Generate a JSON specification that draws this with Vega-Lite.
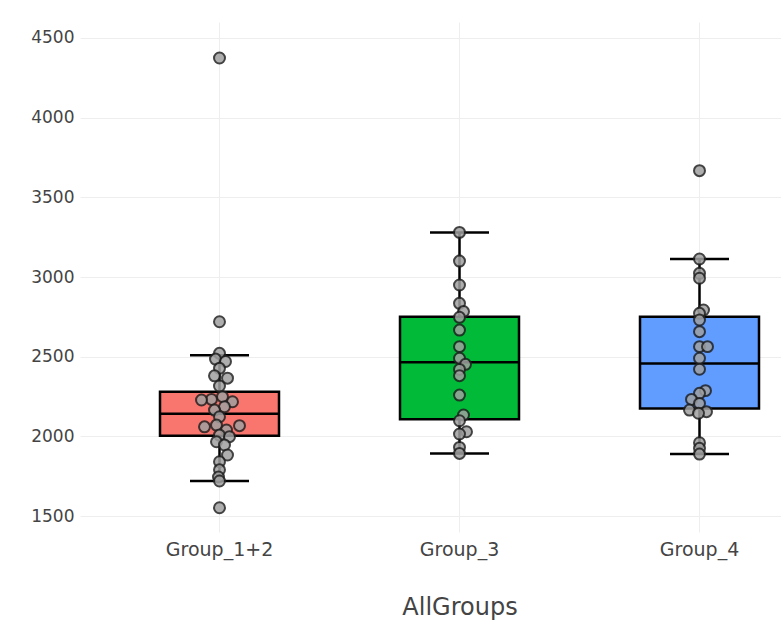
{
  "$schema": "https://vega.github.io/schema/vega-lite/v6.json",
  "width": 759,
  "height": 510,
  "autosize": {"type": "none"},
  "padding": {"left": 80, "top": 22, "right": 0, "bottom": 95},
  "background": "white",
  "config": {
    "view": {"stroke": null},
    "font": "DejaVu Sans",
    "axis": {"labelFont": "DejaVu Sans", "titleFont": "DejaVu Sans", "labelColor": "#444444", "titleColor": "#444444", "gridColor": "#eeeeee", "gridWidth": 1, "domain": false, "ticks": false, "tickSize": 0}
  },
  "datasets": {
    "boxes": [
      {"group": "Group_1+2", "lower": 1720, "q1": 2004, "median": 2142, "q3": 2280, "upper": 2509},
      {"group": "Group_3", "lower": 1893, "q1": 2107, "median": 2465, "q3": 2751, "upper": 3280},
      {"group": "Group_4", "lower": 1889, "q1": 2175, "median": 2458, "q3": 2751, "upper": 3113}
    ],
    "points": [
      {"group": "Group_1+2", "value": 4374, "jitter": 0},
      {"group": "Group_1+2", "value": 2719, "jitter": 0},
      {"group": "Group_1+2", "value": 2521, "jitter": 0},
      {"group": "Group_1+2", "value": 2485, "jitter": -0.16},
      {"group": "Group_1+2", "value": 2470, "jitter": 0.24},
      {"group": "Group_1+2", "value": 2427, "jitter": 0},
      {"group": "Group_1+2", "value": 2380, "jitter": -0.2},
      {"group": "Group_1+2", "value": 2365, "jitter": 0.32},
      {"group": "Group_1+2", "value": 2316, "jitter": 0},
      {"group": "Group_1+2", "value": 2249, "jitter": 0.12},
      {"group": "Group_1+2", "value": 2232, "jitter": -0.32},
      {"group": "Group_1+2", "value": 2228, "jitter": -0.72},
      {"group": "Group_1+2", "value": 2217, "jitter": 0.52},
      {"group": "Group_1+2", "value": 2186, "jitter": 0.2},
      {"group": "Group_1+2", "value": 2165, "jitter": -0.2},
      {"group": "Group_1+2", "value": 2123, "jitter": 0},
      {"group": "Group_1+2", "value": 2071, "jitter": -0.12},
      {"group": "Group_1+2", "value": 2067, "jitter": 0.8},
      {"group": "Group_1+2", "value": 2060, "jitter": -0.6},
      {"group": "Group_1+2", "value": 2040, "jitter": 0.28},
      {"group": "Group_1+2", "value": 2008, "jitter": 0},
      {"group": "Group_1+2", "value": 1998, "jitter": 0.4},
      {"group": "Group_1+2", "value": 1966, "jitter": -0.12},
      {"group": "Group_1+2", "value": 1946, "jitter": 0.2},
      {"group": "Group_1+2", "value": 1883, "jitter": 0.32},
      {"group": "Group_1+2", "value": 1841, "jitter": 0},
      {"group": "Group_1+2", "value": 1790, "jitter": 0},
      {"group": "Group_1+2", "value": 1745, "jitter": -0.04},
      {"group": "Group_1+2", "value": 1720, "jitter": 0},
      {"group": "Group_1+2", "value": 1552, "jitter": 0},
      {"group": "Group_3", "value": 3280, "jitter": 0},
      {"group": "Group_3", "value": 3100, "jitter": 0},
      {"group": "Group_3", "value": 2950, "jitter": 0},
      {"group": "Group_3", "value": 2835, "jitter": 0},
      {"group": "Group_3", "value": 2783, "jitter": 0.16},
      {"group": "Group_3", "value": 2747, "jitter": 0},
      {"group": "Group_3", "value": 2667, "jitter": 0},
      {"group": "Group_3", "value": 2563, "jitter": 0},
      {"group": "Group_3", "value": 2490, "jitter": 0},
      {"group": "Group_3", "value": 2452, "jitter": 0.24},
      {"group": "Group_3", "value": 2420, "jitter": 0},
      {"group": "Group_3", "value": 2381, "jitter": 0},
      {"group": "Group_3", "value": 2259, "jitter": 0},
      {"group": "Group_3", "value": 2134, "jitter": 0.16},
      {"group": "Group_3", "value": 2098, "jitter": 0},
      {"group": "Group_3", "value": 2029, "jitter": 0.28},
      {"group": "Group_3", "value": 2015, "jitter": 0},
      {"group": "Group_3", "value": 1931, "jitter": 0},
      {"group": "Group_3", "value": 1893, "jitter": 0},
      {"group": "Group_4", "value": 3667, "jitter": 0},
      {"group": "Group_4", "value": 3113, "jitter": 0},
      {"group": "Group_4", "value": 3023, "jitter": 0},
      {"group": "Group_4", "value": 2992, "jitter": 0},
      {"group": "Group_4", "value": 2793, "jitter": 0.16},
      {"group": "Group_4", "value": 2772, "jitter": 0},
      {"group": "Group_4", "value": 2730, "jitter": 0},
      {"group": "Group_4", "value": 2657, "jitter": 0},
      {"group": "Group_4", "value": 2563, "jitter": 0},
      {"group": "Group_4", "value": 2563, "jitter": 0.32},
      {"group": "Group_4", "value": 2490, "jitter": 0},
      {"group": "Group_4", "value": 2421, "jitter": 0},
      {"group": "Group_4", "value": 2287, "jitter": 0.24},
      {"group": "Group_4", "value": 2270, "jitter": 0},
      {"group": "Group_4", "value": 2232, "jitter": -0.32},
      {"group": "Group_4", "value": 2207, "jitter": 0},
      {"group": "Group_4", "value": 2165, "jitter": -0.4},
      {"group": "Group_4", "value": 2155, "jitter": 0.28},
      {"group": "Group_4", "value": 2145, "jitter": -0.04},
      {"group": "Group_4", "value": 1960, "jitter": 0},
      {"group": "Group_4", "value": 1925, "jitter": 0},
      {"group": "Group_4", "value": 1889, "jitter": 0}
    ]
  },
  "encoding": {
    "x": {
      "field": "group", "type": "nominal", "sort": ["Group_1+2", "Group_3", "Group_4"],
      "title": "AllGroups",
      "scale": {"paddingInner": 0, "paddingOuter": 0.08125},
      "axis": {"labelAngle": 0, "labelFontSize": 19, "titleFontSize": 24, "titleFontWeight": "normal", "labelPadding": 8, "titlePadding": 36, "grid": true, "bandPosition": 0.5}
    }
  },
  "layer": [
    {
      "data": {"name": "boxes"},
      "mark": {"type": "rule", "color": "black", "strokeWidth": 2.5},
      "encoding": {
        "y": {"field": "lower", "type": "quantitative", "scale": {"domain": [1400, 4600], "nice": false, "zero": false}, "title": null,
              "axis": {"values": [1500, 2000, 2500, 3000, 3500, 4000, 4500], "format": "d", "labelFontSize": 17, "labelPadding": 6, "grid": true}},
        "y2": {"field": "upper"}
      }
    },
    {
      "data": {"name": "boxes"},
      "mark": {"type": "bar", "stroke": "black", "strokeWidth": 2.5, "width": 119, "opacity": 1},
      "encoding": {
        "y": {"field": "q1", "type": "quantitative"},
        "y2": {"field": "q3"},
        "color": {"field": "group", "type": "nominal", "legend": null,
                  "scale": {"domain": ["Group_1+2", "Group_3", "Group_4"], "range": ["#F8766D", "#00BA38", "#619CFF"]}}
      }
    },
    {
      "data": {"name": "boxes"},
      "mark": {"type": "tick", "color": "black", "opacity": 1, "thickness": 2.5, "size": 119},
      "encoding": {"y": {"field": "median", "type": "quantitative"}}
    },
    {
      "data": {"name": "boxes"},
      "mark": {"type": "tick", "color": "black", "opacity": 1, "thickness": 2.5, "size": 59},
      "encoding": {"y": {"field": "upper", "type": "quantitative"}}
    },
    {
      "data": {"name": "boxes"},
      "mark": {"type": "tick", "color": "black", "opacity": 1, "thickness": 2.5, "size": 59},
      "encoding": {"y": {"field": "lower", "type": "quantitative"}}
    },
    {
      "data": {"name": "points"},
      "mark": {"type": "circle", "size": 120, "fill": "#a0a0a0", "stroke": "#222222", "strokeWidth": 2, "opacity": 0.85},
      "encoding": {
        "y": {"field": "value", "type": "quantitative"},
        "xOffset": {"field": "jitter", "type": "quantitative", "scale": {"domain": [-1, 1], "range": [95, 145]}}
      }
    }
  ]
}
